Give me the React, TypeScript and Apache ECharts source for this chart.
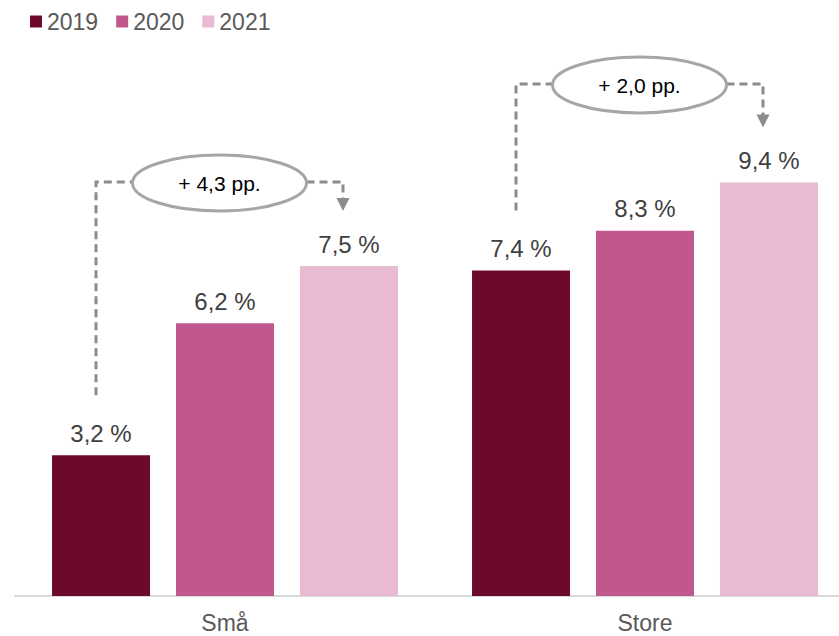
import React, { useEffect, useRef } from "react";
import * as echarts from "echarts";

const categories = ["Små", "Store"];
const years = ["2019", "2020", "2021"];
const values2019 = [3.2, 7.4];
const values2020 = [6.2, 8.3];
const values2021 = [7.5, 9.4];
const changeLabels = ["+ 4,3 pp.", "+ 2,0 pp."];
const colors = ["#6C0A2E", "#C0588E", "#E8BBD3"];

const FONT = "Liberation Sans, Arial, Helvetica, sans-serif";

export default function App() {
  const ref = useRef<HTMLDivElement>(null);
  useEffect(() => {
    if (!ref.current) return;
    const chart = echarts.init(ref.current, null, { renderer: "svg" });
    const seriesData = [values2019, values2020, values2021];
    const fmt = (v: number) => v.toFixed(1).replace(".", ",") + " %";
    chart.setOption({
      animation: false,
      textStyle: { fontFamily: FONT },
      legend: {
        left: 25,
        top: 5,
        icon: "rect",
        itemWidth: 12,
        itemHeight: 12,
        itemGap: 18,
        textStyle: { fontSize: 23, color: "#595959", fontFamily: FONT },
        data: years,
      },
      grid: { left: 15, right: 5, top: 156, bottom: 40, containLabel: false },
      xAxis: {
        type: "category",
        data: categories,
        axisLine: { lineStyle: { color: "#D9D9D9", width: 2 } },
        axisTick: { show: false },
        axisLabel: { fontSize: 23, color: "#595959", margin: 15, fontFamily: FONT },
      },
      yAxis: { type: "value", min: 0, max: 10, show: false, splitLine: { show: false } },
      series: years.map((y, i) => ({
        name: y,
        type: "bar",
        data: seriesData[i],
        barWidth: 98,
        barGap: "26.5%",
        itemStyle: { color: colors[i] },
        label: {
          show: true,
          position: "top",
          distance: 10,
          fontSize: 24,
          color: "#404040",
          fontFamily: FONT,
          formatter: (p: any) => fmt(p.value),
        },
      })),
    });

    // Annotations: brackets from 2019 bar to 2021 bar in each group
    const step = 124;
    const bracketY = [182, 84];
    const graphics: any[] = [];
    const dash = { stroke: "#8C8C8C", lineWidth: 3, lineDash: [8, 5], fill: null };
    categories.forEach((c, i) => {
      const cx = chart.convertToPixel({ xAxisIndex: 0 }, c) as number;
      const leftX = cx - step - 5;
      const rightX = cx + step - 6;
      const topStart = chart.convertToPixel({ yAxisIndex: 0 }, values2019[i]) as number;
      const topEnd = chart.convertToPixel({ yAxisIndex: 0 }, values2021[i]) as number;
      const by = bracketY[i];
      const lineBottom = topStart - 60;
      const tipY = topEnd - 55;
      const ex = (leftX + rightX) / 2;
      const rx = 87;
      const ry = 28;
      graphics.push({
        type: "polyline",
        shape: { points: [[leftX, lineBottom], [leftX, by], [ex - rx, by]] },
        style: dash,
      });
      graphics.push({
        type: "polyline",
        shape: { points: [[ex + rx, by], [rightX, by], [rightX, tipY - 12]] },
        style: dash,
      });
      graphics.push({
        type: "polygon",
        shape: { points: [[rightX - 6.5, tipY - 13], [rightX + 6.5, tipY - 13], [rightX, tipY]] },
        style: { fill: "#8C8C8C" },
      });
      graphics.push({
        type: "ellipse",
        shape: { cx: ex, cy: by + 1, rx, ry },
        style: { fill: "#FFFFFF", stroke: "#A6A6A6", lineWidth: 3 },
        z: 10,
      });
      graphics.push({
        type: "text",
        x: ex,
        y: by + 1,
        z: 11,
        style: {
          text: changeLabels[i],
          fontSize: 21,
          fontFamily: FONT,
          fill: "#000000",
          align: "center",
          verticalAlign: "middle",
        },
      });
    });
    chart.setOption({ graphic: graphics });
    return () => chart.dispose();
  }, []);
  return (
    <div style={{ position: "absolute", left: 0, top: 0, width: 839, height: 636, overflow: "hidden" }}>
      <div ref={ref} style={{ width: 860, height: 636 }} />
    </div>
  );
}
